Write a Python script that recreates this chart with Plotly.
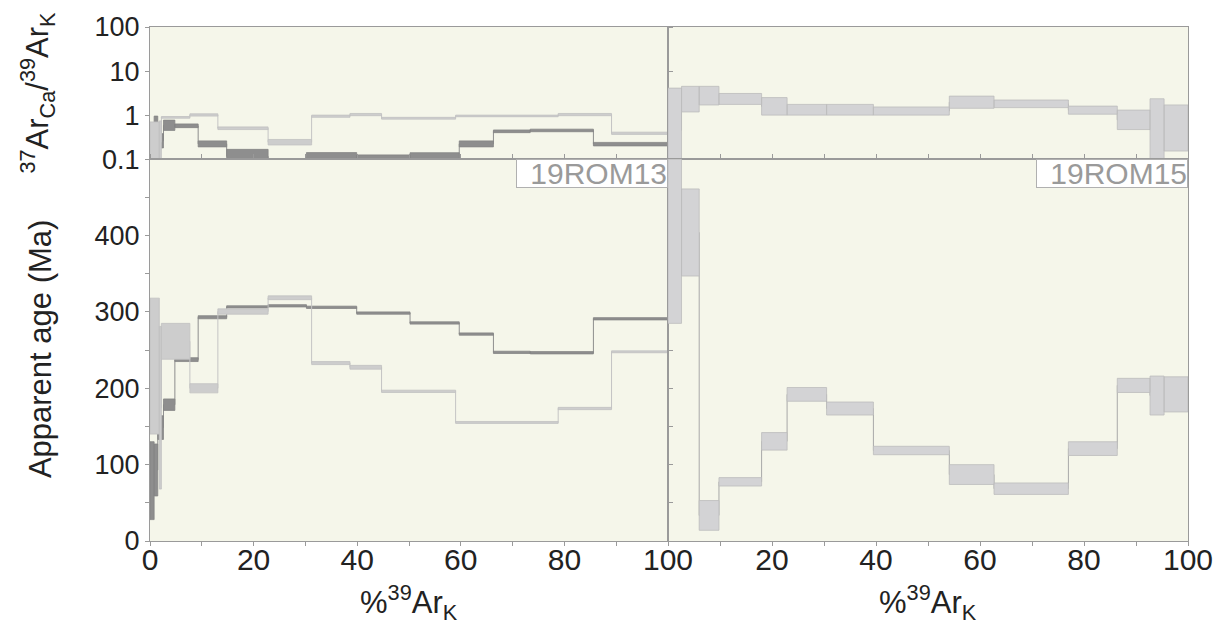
import plotly.graph_objects as go
import math

# ---------------- data ----------------
# 19ROM13, sample A (dark grey spectrum)
a_edges = [0, 0.8, 1.5, 2.6, 4.8, 9.3, 14.8, 22.8, 30.2, 39.9, 50.2, 59.7, 66.3, 73.4, 85.6, 100]
a_age_lo = [28, 59, 133, 171, 235, 291, 305, 306.5, 304.5, 297, 284, 269.5, 245.5, 245, 289.5]
a_age_hi = [130, 127, 164, 186, 240, 295, 308, 309.5, 307.5, 300, 287, 272.5, 248.5, 248, 292.5]
a_ca_lo = [0.12, 0.12, 0.18, 0.45, 0.52, 0.19, 0.08, 0.05, 0.08, 0.08, 0.08, 0.19, 0.40, 0.42, 0.20]
a_ca_hi = [0.63, 0.95, 0.38, 0.77, 0.63, 0.26, 0.167, 0.08, 0.141, 0.125, 0.14, 0.26, 0.46, 0.48, 0.24]

# 19ROM13, sample B (light grey spectrum)
b_edges = [0, 1.8, 2.2, 7.7, 13.1, 22.8, 31.2, 38.6, 44.7, 59.0, 78.8, 89.1, 100]
b_age_lo = [140, 68, 238, 194, 297, 316, 231, 225, 194.5, 154, 172, 246.5]
b_age_hi = [318, 281, 285, 206, 304, 321, 235, 230, 197.5, 156.5, 175, 249]
b_ca_lo = [0.05, 0.08, 0.85, 0.95, 0.47, 0.21, 0.89, 0.97, 0.81, 0.92, 0.97, 0.365]
b_ca_hi = [0.70, 0.74, 0.93, 1.07, 0.54, 0.28, 1.00, 1.09, 0.89, 1.00, 1.09, 0.41]

# 19ROM15
c_edges = [0, 2.6, 6.0, 9.8, 18.0, 22.9, 30.5, 39.5, 54.1, 62.7, 77.0, 86.4, 92.7, 95.4, 100]
c_age_lo = [285, 347, 14, 72, 119, 183, 165, 113, 74, 61, 112, 194.5, 165, 169]
c_age_hi = [560, 461, 53, 83, 142, 201, 182, 124, 100, 76, 130, 213, 216, 215]
c_ca_lo = [0.05, 1.18, 1.7, 1.75, 1.0, 1.0, 1.0, 1.0, 1.43, 1.48, 1.05, 0.47, 0.09, 0.153]
c_ca_hi = [4.1, 4.5, 4.5, 3.1, 2.5, 1.75, 1.75, 1.53, 2.7, 2.2, 1.6, 1.3, 2.35, 1.7]

pct_ticks_left = [0, 10, 20, 30, 40, 50, 60, 70, 80, 90, 100]
pct_labels_left = ["0", "", "20", "", "40", "", "60", "", "80", "", "100"]
pct_ticks_right = [10, 20, 30, 40, 50, 60, 70, 80, 90, 100]
pct_labels_right = ["", "20", "", "40", "", "60", "", "80", "", "100"]
age_ticks = [0, 50, 100, 150, 200, 250, 300, 350, 400, 450]
age_labels = ["0", "", "100", "", "200", "", "300", "", "400", ""]
ca_ticks = [0.1, 1, 10, 100]
ca_labels = ["0.1", "1", "10", "100"]
sample_names = ["19ROM13", "19ROM15"]

# ---------------- helpers ----------------
def boxes(edges, lo, hi):
    xs, ys = [], []
    for i in range(len(lo)):
        x0, x1 = edges[i], edges[i + 1]
        xs += [x0, x1, x1, x0, x0, None]
        ys += [lo[i], lo[i], hi[i], hi[i], lo[i], None]
    return xs, ys

def steps(edges, lo, hi, log=False):
    xs, ys = [], []
    for i in range(len(lo)):
        m = math.sqrt(lo[i] * hi[i]) if log else (lo[i] + hi[i]) / 2
        xs += [edges[i], edges[i + 1]]
        ys += [m, m]
    return xs, ys

FONT = "Liberation Sans, Arial, sans-serif"
BG = "#f5f6ea"
AX = "#9a9a9a"

fig = go.Figure()

def add_series(edges, age_lo, age_hi, ca_lo, ca_hi, xa, fill, edge, conn):
    sx, sy = steps(edges, age_lo, age_hi)
    fig.add_trace(go.Scatter(x=sx, y=sy, xaxis=xa, yaxis="y2", mode="lines",
                             line=dict(color=conn, width=1), hoverinfo="skip", showlegend=False))
    sx, sy = steps(edges, ca_lo, ca_hi, log=True)
    fig.add_trace(go.Scatter(x=sx, y=sy, xaxis=xa, yaxis="y", mode="lines",
                             line=dict(color=conn, width=1), hoverinfo="skip", showlegend=False))
    bx, by = boxes(edges, age_lo, age_hi)
    fig.add_trace(go.Scatter(x=bx, y=by, xaxis=xa, yaxis="y2", mode="lines", fill="toself",
                             fillcolor=fill, line=dict(color=edge, width=0.8),
                             hoverinfo="skip", showlegend=False))
    bx, by = boxes(edges, ca_lo, ca_hi)
    fig.add_trace(go.Scatter(x=bx, y=by, xaxis=xa, yaxis="y", mode="lines", fill="toself",
                             fillcolor=fill, line=dict(color=edge, width=0.8),
                             hoverinfo="skip", showlegend=False))

add_series(a_edges, a_age_lo, a_age_hi, a_ca_lo, a_ca_hi, "x", "#8e8e8e", "#858585", "#8e8e8e")
add_series(b_edges, b_age_lo, b_age_hi, b_ca_lo, b_ca_hi, "x", "#cdcdcd", "#c2c2c2", "#c4c4c4")
add_series(c_edges, c_age_lo, c_age_hi, c_ca_lo, c_ca_hi, "x2", "#d3d3d5", "#bcbcbc", "#a8a8a8")

xtickfont = dict(family=FONT, size=30, color="#222222")
ytickfont = dict(family=FONT, size=27, color="#222222")
common_x = dict(range=[0, 100], showgrid=False, zeroline=False, showline=True, linecolor=AX,
                linewidth=1, mirror="all", ticks="outside", ticklen=4, tickcolor=AX,
                tickfont=xtickfont, ticklabelstandoff=-12, anchor="y2", fixedrange=True)

L = 150; R = 1188; T = 16; B = 541
W = 1226; H = 628
split = (668 - L) / (R - L)
ysplit = (B - 151) / (B - T)

fig.update_layout(
    width=W, height=H,
    margin=dict(l=L, r=W - R, t=T, b=H - B),
    paper_bgcolor="white", plot_bgcolor=BG,
    xaxis=dict(domain=[0, split], tickvals=pct_ticks_left, ticktext=pct_labels_left, **common_x),
    xaxis2=dict(domain=[split, 1], tickvals=pct_ticks_right, ticktext=pct_labels_right, **common_x),
    yaxis=dict(type="log", range=[-1, 2], domain=[ysplit, 1], tickvals=ca_ticks, ticktext=ca_labels,
               showgrid=False, zeroline=False, showline=True, linecolor=AX, linewidth=1, mirror="all",
               ticks="outside", ticklen=4, tickcolor=AX, tickfont=ytickfont, anchor="x", fixedrange=True),
    yaxis2=dict(range=[0, 500], domain=[0, ysplit], tickvals=age_ticks, ticktext=age_labels,
                showgrid=False, zeroline=False, showline=True, linecolor=AX, linewidth=1, mirror="all",
                ticks="outside", ticklen=4, tickcolor=AX, tickfont=ytickfont, anchor="x", fixedrange=True),
)

def px_x(p):
    return (p - L) / (R - L)

def px_y(p):
    return (B - p) / (B - T)

title_font = dict(family=FONT, size=31, color="#222222")
ann = []
ann.append(dict(text="<sup>37</sup>Ar<sub>Ca</sub>/<sup>39</sup>Ar<sub>K</sub>", xref="paper", yref="paper",
                x=px_x(38), y=px_y(83), textangle=-90, showarrow=False, font=title_font,
                xanchor="center", yanchor="middle"))
ann.append(dict(text="Apparent age (Ma)", xref="paper", yref="paper",
                x=px_x(40), y=px_y(345), textangle=-90, showarrow=False, font=title_font,
                xanchor="center", yanchor="middle"))
for cx in (409, 928):
    ann.append(dict(text="%<sup>39</sup>Ar<sub>K</sub>", xref="paper", yref="paper",
                    x=px_x(cx), y=px_y(604), showarrow=False, font=title_font,
                    xanchor="center", yanchor="middle"))
for xa, name in (("x", sample_names[0]), ("x2", sample_names[1])):
    ann.append(dict(text=name, xref=xa, yref="y2", x=100, y=500, xanchor="right", yanchor="top",
                    showarrow=False, bgcolor="white", bordercolor="#b0b0b0", borderwidth=1,
                    borderpad=0, width=150, height=27, align="right",
                    font=dict(family=FONT, size=30, color="#9a9a9a")))
fig.update_layout(annotations=ann)

fig.write_html("out.html")
